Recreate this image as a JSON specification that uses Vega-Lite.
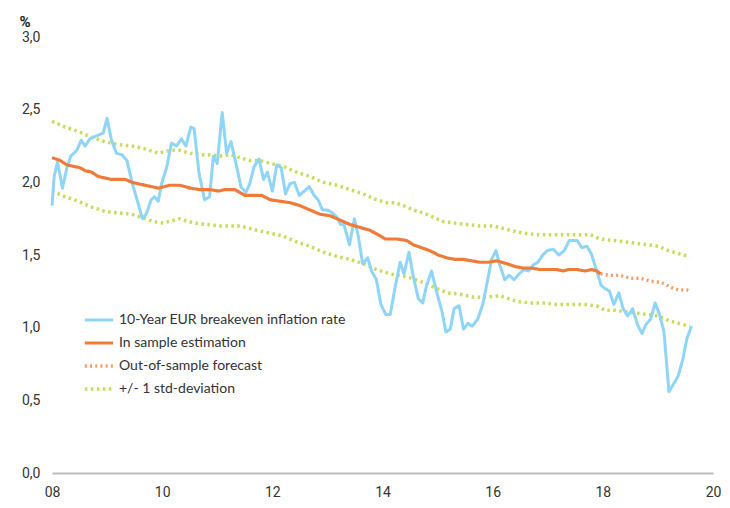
{
  "$schema": "https://vega.github.io/schema/vega-lite/v6.json",
  "width": 661,
  "height": 436,
  "autosize": {"type": "none"},
  "padding": {"left": 52, "top": 37, "right": 17, "bottom": 35},
  "background": "#ffffff",
  "config": {
    "view": {"stroke": null},
    "font": "Lato",
    "axis": {"labelFont": "Liberation Sans Narrow, Roboto, sans-serif", "labelFontSize": 14, "labelColor": "#333333"}
  },
  "data": {
    "values": [
      {"s":"d","g":"u","t":2008.00,"v":2.42},{"s":"d","g":"u","t":2008.24,"v":2.38},{"s":"d","g":"u","t":2008.48,"v":2.35},{"s":"d","g":"u","t":2008.72,"v":2.31},{"s":"d","g":"u","t":2008.96,"v":2.28},{"s":"d","g":"u","t":2009.20,"v":2.26},{"s":"d","g":"u","t":2009.45,"v":2.25},{"s":"d","g":"u","t":2009.69,"v":2.23},{"s":"d","g":"u","t":2009.93,"v":2.20},{"s":"d","g":"u","t":2010.14,"v":2.22},{"s":"d","g":"u","t":2010.32,"v":2.22},{"s":"d","g":"u","t":2010.51,"v":2.20},{"s":"d","g":"u","t":2010.69,"v":2.19},{"s":"d","g":"u","t":2010.87,"v":2.19},{"s":"d","g":"u","t":2011.05,"v":2.18},{"s":"d","g":"u","t":2011.23,"v":2.19},{"s":"d","g":"u","t":2011.41,"v":2.17},{"s":"d","g":"u","t":2011.59,"v":2.15},{"s":"d","g":"u","t":2011.78,"v":2.15},{"s":"d","g":"u","t":2011.96,"v":2.13},{"s":"d","g":"u","t":2012.20,"v":2.11},{"s":"d","g":"u","t":2012.44,"v":2.07},{"s":"d","g":"u","t":2012.68,"v":2.04},{"s":"d","g":"u","t":2012.93,"v":2.00},{"s":"d","g":"u","t":2013.17,"v":1.98},{"s":"d","g":"u","t":2013.41,"v":1.95},{"s":"d","g":"u","t":2013.65,"v":1.92},{"s":"d","g":"u","t":2013.89,"v":1.88},{"s":"d","g":"u","t":2014.08,"v":1.86},{"s":"d","g":"u","t":2014.23,"v":1.86},{"s":"d","g":"u","t":2014.38,"v":1.84},{"s":"d","g":"u","t":2014.56,"v":1.81},{"s":"d","g":"u","t":2014.74,"v":1.79},{"s":"d","g":"u","t":2014.92,"v":1.76},{"s":"d","g":"u","t":2015.10,"v":1.73},{"s":"d","g":"u","t":2015.29,"v":1.72},{"s":"d","g":"u","t":2015.53,"v":1.71},{"s":"d","g":"u","t":2015.77,"v":1.70},{"s":"d","g":"u","t":2016.01,"v":1.70},{"s":"d","g":"u","t":2016.22,"v":1.68},{"s":"d","g":"u","t":2016.32,"v":1.67},{"s":"d","g":"u","t":2016.56,"v":1.65},{"s":"d","g":"u","t":2016.80,"v":1.64},{"s":"d","g":"u","t":2017.04,"v":1.64},{"s":"d","g":"u","t":2017.28,"v":1.64},{"s":"d","g":"u","t":2017.53,"v":1.64},{"s":"d","g":"u","t":2017.77,"v":1.64},{"s":"d","g":"u","t":2017.95,"v":1.61},{"s":"d","g":"u","t":2018.19,"v":1.60},{"s":"d","g":"u","t":2018.40,"v":1.59},{"s":"d","g":"u","t":2018.62,"v":1.58},{"s":"d","g":"u","t":2018.83,"v":1.57},{"s":"d","g":"u","t":2019.01,"v":1.56},{"s":"d","g":"u","t":2019.19,"v":1.53},{"s":"d","g":"u","t":2019.37,"v":1.51},{"s":"d","g":"u","t":2019.58,"v":1.49},
      {"s":"d","g":"l","t":2008.00,"v":1.94},{"s":"d","g":"l","t":2008.24,"v":1.90},{"s":"d","g":"l","t":2008.48,"v":1.87},{"s":"d","g":"l","t":2008.72,"v":1.83},{"s":"d","g":"l","t":2008.96,"v":1.80},{"s":"d","g":"l","t":2009.20,"v":1.79},{"s":"d","g":"l","t":2009.45,"v":1.78},{"s":"d","g":"l","t":2009.69,"v":1.75},{"s":"d","g":"l","t":2009.84,"v":1.73},{"s":"d","g":"l","t":2010.02,"v":1.72},{"s":"d","g":"l","t":2010.32,"v":1.75},{"s":"d","g":"l","t":2010.57,"v":1.72},{"s":"d","g":"l","t":2011.05,"v":1.70},{"s":"d","g":"l","t":2011.41,"v":1.70},{"s":"d","g":"l","t":2011.72,"v":1.67},{"s":"d","g":"l","t":2011.96,"v":1.65},{"s":"d","g":"l","t":2012.20,"v":1.63},{"s":"d","g":"l","t":2012.44,"v":1.59},{"s":"d","g":"l","t":2012.68,"v":1.56},{"s":"d","g":"l","t":2012.93,"v":1.52},{"s":"d","g":"l","t":2013.17,"v":1.49},{"s":"d","g":"l","t":2013.41,"v":1.47},{"s":"d","g":"l","t":2013.65,"v":1.44},{"s":"d","g":"l","t":2013.89,"v":1.40},{"s":"d","g":"l","t":2014.14,"v":1.37},{"s":"d","g":"l","t":2014.44,"v":1.35},{"s":"d","g":"l","t":2014.68,"v":1.32},{"s":"d","g":"l","t":2014.92,"v":1.28},{"s":"d","g":"l","t":2015.17,"v":1.24},{"s":"d","g":"l","t":2015.41,"v":1.23},{"s":"d","g":"l","t":2015.65,"v":1.21},{"s":"d","g":"l","t":2015.89,"v":1.21},{"s":"d","g":"l","t":2016.13,"v":1.22},{"s":"d","g":"l","t":2016.44,"v":1.18},{"s":"d","g":"l","t":2016.68,"v":1.17},{"s":"d","g":"l","t":2016.92,"v":1.17},{"s":"d","g":"l","t":2017.16,"v":1.16},{"s":"d","g":"l","t":2017.40,"v":1.16},{"s":"d","g":"l","t":2017.65,"v":1.16},{"s":"d","g":"l","t":2017.89,"v":1.15},{"s":"d","g":"l","t":2018.04,"v":1.12},{"s":"d","g":"l","t":2018.22,"v":1.12},{"s":"d","g":"l","t":2018.40,"v":1.11},{"s":"d","g":"l","t":2018.62,"v":1.10},{"s":"d","g":"l","t":2018.83,"v":1.09},{"s":"d","g":"l","t":2019.01,"v":1.08},{"s":"d","g":"l","t":2019.19,"v":1.05},{"s":"d","g":"l","t":2019.37,"v":1.03},{"s":"d","g":"l","t":2019.58,"v":1.01},
      {"s":"b","t":2008.00,"v":1.84},{"s":"b","t":2008.04,"v":2.04},{"s":"b","t":2008.10,"v":2.14},{"s":"b","t":2008.19,"v":1.96},{"s":"b","t":2008.27,"v":2.10},{"s":"b","t":2008.34,"v":2.18},{"s":"b","t":2008.45,"v":2.22},{"s":"b","t":2008.53,"v":2.29},{"s":"b","t":2008.60,"v":2.25},{"s":"b","t":2008.69,"v":2.30},{"s":"b","t":2008.81,"v":2.32},{"s":"b","t":2008.93,"v":2.34},{"s":"b","t":2009.00,"v":2.44},{"s":"b","t":2009.08,"v":2.29},{"s":"b","t":2009.17,"v":2.20},{"s":"b","t":2009.27,"v":2.19},{"s":"b","t":2009.36,"v":2.15},{"s":"b","t":2009.46,"v":1.99},{"s":"b","t":2009.56,"v":1.86},{"s":"b","t":2009.64,"v":1.75},{"s":"b","t":2009.71,"v":1.78},{"s":"b","t":2009.80,"v":1.88},{"s":"b","t":2009.86,"v":1.90},{"s":"b","t":2009.93,"v":1.87},{"s":"b","t":2009.99,"v":1.99},{"s":"b","t":2010.08,"v":2.10},{"s":"b","t":2010.17,"v":2.27},{"s":"b","t":2010.26,"v":2.25},{"s":"b","t":2010.35,"v":2.30},{"s":"b","t":2010.43,"v":2.25},{"s":"b","t":2010.52,"v":2.38},{"s":"b","t":2010.58,"v":2.37},{"s":"b","t":2010.67,"v":2.06},{"s":"b","t":2010.77,"v":1.88},{"s":"b","t":2010.86,"v":1.90},{"s":"b","t":2010.93,"v":2.18},{"s":"b","t":2011.00,"v":2.13},{"s":"b","t":2011.09,"v":2.48},{"s":"b","t":2011.17,"v":2.20},{"s":"b","t":2011.25,"v":2.28},{"s":"b","t":2011.34,"v":2.13},{"s":"b","t":2011.43,"v":1.97},{"s":"b","t":2011.52,"v":1.93},{"s":"b","t":2011.59,"v":1.99},{"s":"b","t":2011.67,"v":2.11},{"s":"b","t":2011.76,"v":2.16},{"s":"b","t":2011.84,"v":2.02},{"s":"b","t":2011.91,"v":2.07},{"s":"b","t":2012.00,"v":1.94},{"s":"b","t":2012.08,"v":2.12},{"s":"b","t":2012.16,"v":2.10},{"s":"b","t":2012.24,"v":1.92},{"s":"b","t":2012.32,"v":1.99},{"s":"b","t":2012.40,"v":2.00},{"s":"b","t":2012.49,"v":1.91},{"s":"b","t":2012.58,"v":1.94},{"s":"b","t":2012.67,"v":1.97},{"s":"b","t":2012.76,"v":1.91},{"s":"b","t":2012.83,"v":1.88},{"s":"b","t":2012.91,"v":1.81},{"s":"b","t":2013.00,"v":1.81},{"s":"b","t":2013.09,"v":1.79},{"s":"b","t":2013.17,"v":1.76},{"s":"b","t":2013.24,"v":1.71},{"s":"b","t":2013.30,"v":1.71},{"s":"b","t":2013.40,"v":1.57},{"s":"b","t":2013.49,"v":1.75},{"s":"b","t":2013.56,"v":1.63},{"s":"b","t":2013.64,"v":1.44},{"s":"b","t":2013.73,"v":1.48},{"s":"b","t":2013.80,"v":1.39},{"s":"b","t":2013.89,"v":1.33},{"s":"b","t":2013.97,"v":1.16},{"s":"b","t":2014.06,"v":1.09},{"s":"b","t":2014.14,"v":1.09},{"s":"b","t":2014.23,"v":1.28},{"s":"b","t":2014.32,"v":1.45},{"s":"b","t":2014.39,"v":1.37},{"s":"b","t":2014.48,"v":1.52},{"s":"b","t":2014.56,"v":1.35},{"s":"b","t":2014.65,"v":1.20},{"s":"b","t":2014.73,"v":1.17},{"s":"b","t":2014.80,"v":1.29},{"s":"b","t":2014.89,"v":1.39},{"s":"b","t":2014.98,"v":1.25},{"s":"b","t":2015.08,"v":1.11},{"s":"b","t":2015.15,"v":0.97},{"s":"b","t":2015.23,"v":0.99},{"s":"b","t":2015.30,"v":1.13},{"s":"b","t":2015.39,"v":1.15},{"s":"b","t":2015.47,"v":0.99},{"s":"b","t":2015.55,"v":1.03},{"s":"b","t":2015.63,"v":1.01},{"s":"b","t":2015.73,"v":1.06},{"s":"b","t":2015.82,"v":1.16},{"s":"b","t":2015.90,"v":1.31},{"s":"b","t":2015.98,"v":1.47},{"s":"b","t":2016.06,"v":1.53},{"s":"b","t":2016.13,"v":1.43},{"s":"b","t":2016.22,"v":1.33},{"s":"b","t":2016.30,"v":1.36},{"s":"b","t":2016.39,"v":1.33},{"s":"b","t":2016.48,"v":1.37},{"s":"b","t":2016.57,"v":1.40},{"s":"b","t":2016.65,"v":1.39},{"s":"b","t":2016.73,"v":1.43},{"s":"b","t":2016.82,"v":1.45},{"s":"b","t":2016.91,"v":1.50},{"s":"b","t":2016.99,"v":1.53},{"s":"b","t":2017.10,"v":1.54},{"s":"b","t":2017.20,"v":1.50},{"s":"b","t":2017.30,"v":1.53},{"s":"b","t":2017.39,"v":1.60},{"s":"b","t":2017.53,"v":1.60},{"s":"b","t":2017.62,"v":1.55},{"s":"b","t":2017.71,"v":1.56},{"s":"b","t":2017.79,"v":1.51},{"s":"b","t":2017.88,"v":1.40},{"s":"b","t":2017.97,"v":1.29},{"s":"b","t":2018.04,"v":1.27},{"s":"b","t":2018.12,"v":1.25},{"s":"b","t":2018.20,"v":1.16},{"s":"b","t":2018.29,"v":1.24},{"s":"b","t":2018.37,"v":1.13},{"s":"b","t":2018.45,"v":1.08},{"s":"b","t":2018.54,"v":1.13},{"s":"b","t":2018.63,"v":1.02},{"s":"b","t":2018.71,"v":0.96},{"s":"b","t":2018.78,"v":1.02},{"s":"b","t":2018.87,"v":1.06},{"s":"b","t":2018.95,"v":1.17},{"s":"b","t":2019.03,"v":1.09},{"s":"b","t":2019.11,"v":0.97},{"s":"b","t":2019.20,"v":0.56},{"s":"b","t":2019.28,"v":0.61},{"s":"b","t":2019.37,"v":0.67},{"s":"b","t":2019.45,"v":0.78},{"s":"b","t":2019.53,"v":0.93},{"s":"b","t":2019.61,"v":1.01},
      {"s":"f","t":2017.96,"v":1.37},{"s":"f","t":2018.13,"v":1.36},{"s":"f","t":2018.31,"v":1.36},{"s":"f","t":2018.49,"v":1.34},{"s":"f","t":2018.68,"v":1.34},{"s":"f","t":2018.86,"v":1.32},{"s":"f","t":2019.07,"v":1.31},{"s":"f","t":2019.22,"v":1.28},{"s":"f","t":2019.37,"v":1.26},{"s":"f","t":2019.52,"v":1.26},{"s":"f","t":2019.60,"v":1.25},
      {"s":"e","t":2008.00,"v":2.17},{"s":"e","t":2008.15,"v":2.15},{"s":"e","t":2008.27,"v":2.12},{"s":"e","t":2008.39,"v":2.11},{"s":"e","t":2008.51,"v":2.10},{"s":"e","t":2008.60,"v":2.08},{"s":"e","t":2008.72,"v":2.07},{"s":"e","t":2008.84,"v":2.04},{"s":"e","t":2008.96,"v":2.03},{"s":"e","t":2009.08,"v":2.02},{"s":"e","t":2009.20,"v":2.02},{"s":"e","t":2009.33,"v":2.02},{"s":"e","t":2009.45,"v":2.00},{"s":"e","t":2009.57,"v":1.99},{"s":"e","t":2009.69,"v":1.98},{"s":"e","t":2009.81,"v":1.97},{"s":"e","t":2009.93,"v":1.96},{"s":"e","t":2010.14,"v":1.98},{"s":"e","t":2010.32,"v":1.98},{"s":"e","t":2010.51,"v":1.96},{"s":"e","t":2010.69,"v":1.95},{"s":"e","t":2010.87,"v":1.95},{"s":"e","t":2011.02,"v":1.94},{"s":"e","t":2011.14,"v":1.95},{"s":"e","t":2011.32,"v":1.95},{"s":"e","t":2011.50,"v":1.91},{"s":"e","t":2011.65,"v":1.91},{"s":"e","t":2011.81,"v":1.91},{"s":"e","t":2011.96,"v":1.88},{"s":"e","t":2012.14,"v":1.87},{"s":"e","t":2012.32,"v":1.86},{"s":"e","t":2012.50,"v":1.84},{"s":"e","t":2012.68,"v":1.81},{"s":"e","t":2012.87,"v":1.78},{"s":"e","t":2013.05,"v":1.77},{"s":"e","t":2013.23,"v":1.74},{"s":"e","t":2013.41,"v":1.71},{"s":"e","t":2013.59,"v":1.69},{"s":"e","t":2013.77,"v":1.67},{"s":"e","t":2013.92,"v":1.64},{"s":"e","t":2014.05,"v":1.61},{"s":"e","t":2014.26,"v":1.61},{"s":"e","t":2014.44,"v":1.60},{"s":"e","t":2014.56,"v":1.57},{"s":"e","t":2014.71,"v":1.55},{"s":"e","t":2014.86,"v":1.53},{"s":"e","t":2015.01,"v":1.50},{"s":"e","t":2015.17,"v":1.48},{"s":"e","t":2015.32,"v":1.47},{"s":"e","t":2015.47,"v":1.47},{"s":"e","t":2015.62,"v":1.46},{"s":"e","t":2015.77,"v":1.45},{"s":"e","t":2015.92,"v":1.45},{"s":"e","t":2016.07,"v":1.46},{"s":"e","t":2016.26,"v":1.44},{"s":"e","t":2016.41,"v":1.42},{"s":"e","t":2016.56,"v":1.41},{"s":"e","t":2016.71,"v":1.41},{"s":"e","t":2016.86,"v":1.40},{"s":"e","t":2017.01,"v":1.40},{"s":"e","t":2017.16,"v":1.40},{"s":"e","t":2017.28,"v":1.39},{"s":"e","t":2017.37,"v":1.40},{"s":"e","t":2017.53,"v":1.40},{"s":"e","t":2017.68,"v":1.39},{"s":"e","t":2017.80,"v":1.40},{"s":"e","t":2017.89,"v":1.39},{"s":"e","t":2017.96,"v":1.37}
    ]
  },
  "mark": {"type": "line", "strokeJoin": "round", "clip": false},
  "encoding": {
    "x": {
      "field": "t", "type": "quantitative",
      "scale": {"domain": [2008, 2020], "nice": false, "zero": false},
      "axis": {
        "title": null, "values": [2008, 2010, 2012, 2014, 2016, 2018, 2020],
        "labelExpr": "substring(toString(datum.value), 2)",
        "grid": false, "ticks": false, "domain": true, "domainColor": "#bdbdbd", "domainWidth": 2,
        "labelPadding": 12, "labelFlush": false
      }
    },
    "y": {
      "field": "v", "type": "quantitative",
      "scale": {"domain": [0, 3], "nice": false},
      "axis": {
        "title": "%", "titleAngle": 0, "titleX": -33, "titleY": -16, "titleAlign": "left", "titleBaseline": "middle",
        "titleFontWeight": "bold", "titleFontSize": 15, "titleColor": "#222222", "titleFont": "Liberation Sans Narrow, Roboto, sans-serif",
        "values": [0, 0.5, 1, 1.5, 2, 2.5, 3],
        "labelExpr": "replace(format(datum.value, '.1f'), '.', ',')",
        "grid": false, "ticks": false, "domain": false, "labelPadding": 12
      }
    },
    "detail": {"field": "g"},
    "color": {
      "field": "s", "type": "nominal",
      "scale": {"domain": ["b", "e", "f", "d"], "range": ["#8fd5f7", "#ef7b38", "#f89a68", "#c8dc5a"]},
      "legend": {
        "title": null, "orient": "none", "legendX": 31, "legendY": 267,
        "symbolType": "stroke", "symbolSize": 800, "symbolStrokeWidth": 3, "rowPadding": -4,
        "labelFont": "Lato", "labelFontSize": 14, "labelColor": "#333333", "labelOffset": 4, "labelLimit": 400,
        "labelExpr": "datum.value == 'b' ? '10-Year EUR breakeven inflation rate' : datum.value == 'e' ? 'In sample estimation' : datum.value == 'f' ? 'Out-of-sample forecast' : '+/- 1 std-deviation'"
      }
    },
    "strokeDash": {
      "field": "s", "type": "nominal",
      "scale": {"domain": ["b", "e", "f", "d"], "range": [[1, 0], [1, 0], [2, 3.2], [2.5, 3.5]]},
      "legend": {
        "title": null, "orient": "none", "legendX": 31, "legendY": 267,
        "symbolType": "stroke", "symbolSize": 800, "symbolStrokeWidth": 3, "rowPadding": -4,
        "labelFont": "Lato", "labelFontSize": 14, "labelColor": "#333333", "labelOffset": 4, "labelLimit": 400,
        "labelExpr": "datum.value == 'b' ? '10-Year EUR breakeven inflation rate' : datum.value == 'e' ? 'In sample estimation' : datum.value == 'f' ? 'Out-of-sample forecast' : '+/- 1 std-deviation'"
      }
    },
    "strokeWidth": {
      "field": "s", "type": "nominal",
      "scale": {"domain": ["b", "e", "f", "d"], "range": [3, 3.5, 2.5, 3]},
      "legend": null
    },
    "order": {"field": "t"}
  }
}
